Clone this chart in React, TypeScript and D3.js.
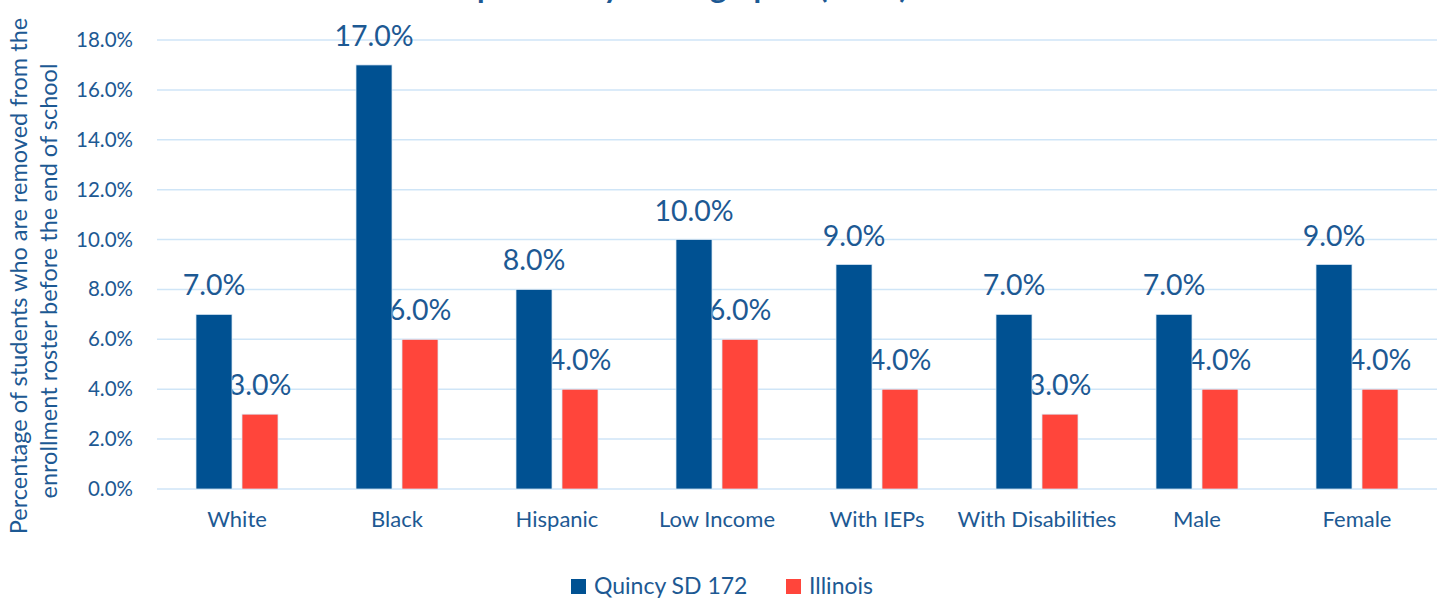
import React from "react";
import * as d3 from "d3";

const categories = ["White", "Black", "Hispanic", "Low Income", "With IEPs", "With Disabilities", "Male", "Female"];
const seriesNames = ["Quincy SD 172", "Illinois"];
const quincyValues = [0.07, 0.17, 0.08, 0.10, 0.09, 0.07, 0.07, 0.09];
const illinoisValues = [0.03, 0.06, 0.04, 0.06, 0.04, 0.03, 0.04, 0.04];
const yTicks = [0, 0.02, 0.04, 0.06, 0.08, 0.10, 0.12, 0.14, 0.16, 0.18];
const titleText = "Comparison by Demographic (2019)";
const yTitleLines = ["Percentage of students who are removed from the", "enrollment roster before the end of school"];

const W = 1440;
const H = 598;
const FONT = "Lato, 'Open Sans', sans-serif";
const TEXT = "#1d5993";
const GRID = "#cfe5f7";
const COLORS = ["#005192", "#ff453b"];

export default function App() {
  const x = d3.scaleBand<string>().domain(categories).range([157, 1437]).paddingInner(0).paddingOuter(0);
  const step = x.bandwidth();
  const sub = d3
    .scaleBand<string>()
    .domain(seriesNames)
    .range([step / 2 - 41, step / 2 + 41])
    .paddingInner(10 / 46)
    .paddingOuter(0);
  const y = d3.scaleLinear().domain([0, 0.18]).range([489, 40]);
  const fmt = d3.format(".1%");
  const data = [quincyValues, illinoisValues];

  return (
    <svg
      width={W}
      height={H}
      style={{ position: "absolute", left: 0, top: 0, background: "#fff", overflow: "hidden" }}
      fontFamily={FONT}
    >
      <rect x={0} y={0} width={W} height={H} fill="#fff" />
      {/* Title (cut off at the top, as in the reference) */}
      <text x={413} y={-2} fontSize={31} fontWeight="bold" fill={TEXT}>
        {titleText}
      </text>

      {/* gridlines */}
      {yTicks.map((t) => (
        <line key={t} x1={157} x2={1437} y1={y(t)} y2={y(t)} stroke={GRID} strokeWidth={1.5} />
      ))}

      {/* y tick labels */}
      {yTicks.map((t) => (
        <text key={"l" + t} x={133} y={y(t) + 7} textAnchor="end" fontSize={20.5} fill={TEXT}>
          {fmt(t)}
        </text>
      ))}

      {/* y axis title */}
      {yTitleLines.map((line, i) => (
        <text
          key={line}
          transform={`translate(${27 + i * 30},${i === 0 ? 276 : 281}) rotate(-90)`}
          textAnchor="middle"
          fontSize={23.5}
          fill={TEXT}
        >
          {line}
        </text>
      ))}

      {/* value labels (drawn under bars) */}
      {data.map((vals, si) =>
        vals.map((v, ci) => (
          <text
            key={`v${si}-${ci}`}
            x={(x(categories[ci]) as number) + (sub(seriesNames[si]) as number) + sub.bandwidth() / 2}
            y={y(v) - 19}
            textAnchor="middle"
            fontSize={28.5}
            fill={TEXT}
          >
            {fmt(v)}
          </text>
        ))
      )}

      {/* bars */}
      {data.map((vals, si) =>
        vals.map((v, ci) => (
          <rect
            key={`b${si}-${ci}`}
            x={(x(categories[ci]) as number) + (sub(seriesNames[si]) as number)}
            y={y(v)}
            width={sub.bandwidth()}
            height={y(0) - y(v)}
            fill={COLORS[si]}
            stroke="#dbe9f5"
            strokeWidth={0.75}
          />
        ))
      )}

      {/* category labels */}
      {categories.map((c) => (
        <text key={c} x={(x(c) as number) + step / 2} y={527} textAnchor="middle" fontSize={22} fill={TEXT}>
          {c}
        </text>
      ))}

      {/* legend */}
      {seriesNames.map((s, i) => {
        const lx = i === 0 ? 571 : 786;
        return (
          <g key={s}>
            <rect x={lx} y={579} width={15} height={15} fill={COLORS[i]} />
            <text x={lx + 23} y={594} fontSize={23} fill={TEXT}>
              {s}
            </text>
          </g>
        );
      })}
    </svg>
  );
}
